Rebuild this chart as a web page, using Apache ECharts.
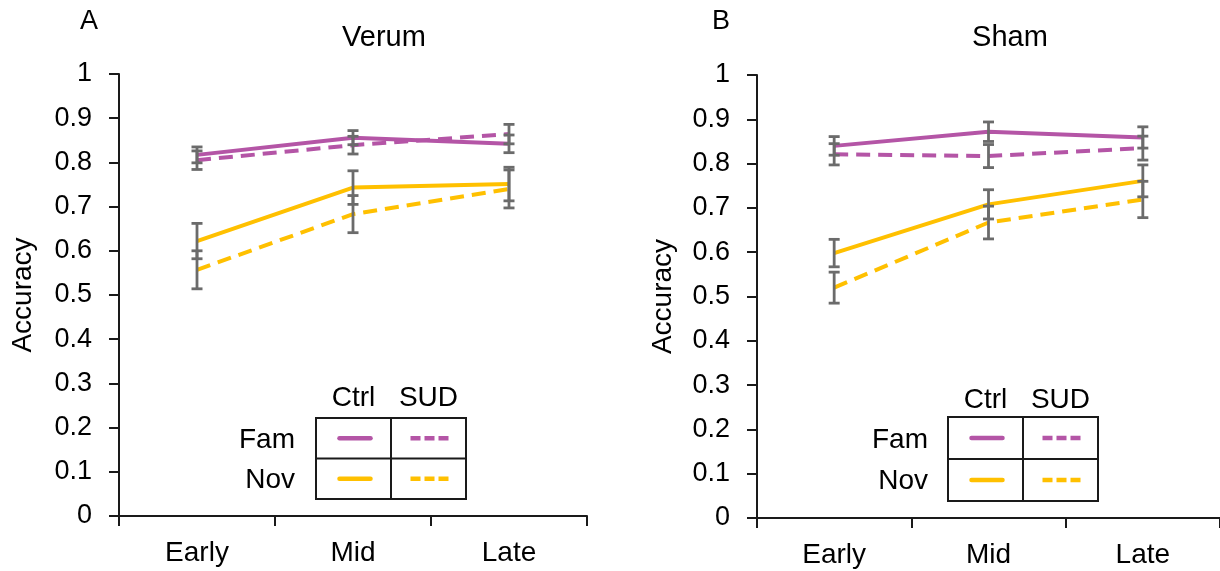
<!DOCTYPE html>
<html>
<head>
<meta charset="utf-8">
<script src="https://cdn.jsdelivr.net/npm/echarts@6/dist/echarts.min.js"></script>
<style>
html,body{margin:0;padding:0;background:#fff;}
#chart{width:1220px;height:571px;}
</style>
</head>
<body>
<div id="chart"></div>
<script>
// ---- data ----
const categories = ['Early', 'Mid', 'Late'];
const panelTitles = ['Verum', 'Sham'];
const panelLetters = ['A', 'B'];
const yAxisName = 'Accuracy';
const legendCols = ['Ctrl', 'SUD'];
const legendRows = ['Fam', 'Nov'];

// Panel A (Verum)
const famCtrlA = [0.817, 0.856, 0.842];
const famCtrlA_err = [0.018, 0.016, 0.020];
const famSudA = [0.805, 0.839, 0.864];
const famSudA_err = [0.021, 0.020, 0.022];
const novCtrlA = [0.622, 0.743, 0.751];
const novCtrlA_err = [0.040, 0.038, 0.038];
const novSudA = [0.557, 0.683, 0.740];
const novSudA_err = [0.043, 0.042, 0.043];

// Panel B (Sham)
const famCtrlB = [0.840, 0.872, 0.859];
const famCtrlB_err = [0.021, 0.022, 0.024];
const famSudB = [0.821, 0.817, 0.835];
const famSudB_err = [0.024, 0.026, 0.027];
const novCtrlB = [0.598, 0.708, 0.761];
const novCtrlB_err = [0.031, 0.033, 0.036];
const novSudB = [0.520, 0.667, 0.719];
const novSudB_err = [0.035, 0.037, 0.041];

// ---- styles ----
const PURPLE = '#B455A6';
const GOLD = '#FFC000';
const ERRC = '#6b6b6b';
const AXC = '#1a1a1a';
const FONT = "'Liberation Sans', Arial, sans-serif";

function errData(means, errs) {
  return means.map((m, i) => [i, m - errs[i], m + errs[i]]);
}
function errRender(params, api) {
  const x = api.value(0), lo = api.value(1), hi = api.value(2);
  const p1 = api.coord([x, hi]);
  const p2 = api.coord([x, lo]);
  const w = 5.5;
  const style = { stroke: ERRC, lineWidth: 2.8 };
  return {
    type: 'group',
    children: [
      { type: 'line', shape: { x1: p1[0], y1: p1[1], x2: p2[0], y2: p2[1] }, style },
      { type: 'line', shape: { x1: p1[0] - w, y1: p1[1], x2: p1[0] + w, y2: p1[1] }, style },
      { type: 'line', shape: { x1: p2[0] - w, y1: p2[1], x2: p2[0] + w, y2: p2[1] }, style }
    ]
  };
}

const panels = [
  { sets: [[famCtrlA, famCtrlA_err, PURPLE, 'solid'], [famSudA, famSudA_err, PURPLE, 'dashed'],
           [novCtrlA, novCtrlA_err, GOLD, 'solid'], [novSudA, novSudA_err, GOLD, 'dashed']] },
  { sets: [[famCtrlB, famCtrlB_err, PURPLE, 'solid'], [famSudB, famSudB_err, PURPLE, 'dashed'],
           [novCtrlB, novCtrlB_err, GOLD, 'solid'], [novSudB, novSudB_err, GOLD, 'dashed']] }
];

const grids = [
  { left: 119, top: 74, width: 468, height: 442 },
  { left: 757, top: 75, width: 471, height: 443 }
];

const xAxes = [], yAxes = [], series = [];
grids.forEach((g, gi) => {
  xAxes.push({
    type: 'category', gridIndex: gi, data: categories, boundaryGap: true,
    axisLine: { lineStyle: { color: AXC, width: 2 } },
    axisTick: { show: true, length: 10, lineStyle: { color: AXC, width: 2 } },
    axisLabel: { color: '#000', fontSize: 28, fontFamily: FONT, margin: 23 },
    splitLine: { show: false }
  });
  yAxes.push({
    type: 'value', gridIndex: gi, min: 0, max: 1, interval: 0.1,
    name: yAxisName, nameLocation: 'middle', nameGap: gi === 0 ? 82 : 80, nameRotate: 90,
    nameTextStyle: { color: '#000', fontSize: 28, fontFamily: FONT },
    axisLine: { show: true, lineStyle: { color: AXC, width: 2 } },
    axisTick: { show: true, length: 10, lineStyle: { color: AXC, width: 2 } },
    axisLabel: {
      color: '#000', fontSize: 27, fontFamily: FONT, margin: 27,
      formatter: v => (Math.round(v * 10) / 10).toString()
    },
    splitLine: { show: false }
  });
  panels[gi].sets.forEach(([means, errs, color, style]) => {
    series.push({
      type: 'line', xAxisIndex: gi, yAxisIndex: gi, data: means,
      symbol: 'none', z: 2,
      lineStyle: { color, width: 4, type: style === 'dashed' ? [14, 8] : 'solid' }
    });
  });
  panels[gi].sets.forEach(([means, errs]) => {
    series.push({
      type: 'custom', xAxisIndex: gi, yAxisIndex: gi, z: 3,
      data: errData(means, errs), encode: { x: 0, y: [1, 2] },
      renderItem: errRender
    });
  });
});

// Legend tables (graphic)
function legendTable(bx, by, bw, bh, labelRight, colY, rowYs) {
  const midX = bx + bw / 2, midY = by + bh / 2;
  const els = [];
  const ls = { stroke: '#1a1a1a', lineWidth: 2, fill: null };
  els.push({ type: 'rect', shape: { x: bx, y: by, width: bw, height: bh }, style: { stroke: '#1a1a1a', lineWidth: 2, fill: 'none' } });
  els.push({ type: 'line', shape: { x1: midX, y1: by, x2: midX, y2: by + bh }, style: ls });
  els.push({ type: 'line', shape: { x1: bx, y1: midY, x2: bx + bw, y2: midY }, style: ls });
  const tstyle = (t, x, y, align) => ({ type: 'text', x, y, style: { text: t, font: '28px ' + FONT, fill: '#000', textAlign: align, textVerticalAlign: 'middle' } });
  els.push(tstyle(legendCols[0], bx + bw / 4, colY, 'center'));
  els.push(tstyle(legendCols[1], bx + 3 * bw / 4, colY, 'center'));
  els.push(tstyle(legendRows[0], labelRight, rowYs[0], 'right'));
  els.push(tstyle(legendRows[1], labelRight, rowYs[1], 'right'));
  const cy = [by + bh / 4, by + 3 * bh / 4];
  const c1 = bx + bw / 4, c2 = bx + 3 * bw / 4;
  [PURPLE, GOLD].forEach((col, r) => {
    els.push({ type: 'line', shape: { x1: c1 - 14, y1: cy[r], x2: c1 + 17, y2: cy[r] }, style: { stroke: col, lineWidth: 4.5, lineCap: 'round' } });
    els.push({ type: 'line', shape: { x1: c2 - 18, y1: cy[r], x2: c2 + 20, y2: cy[r] }, style: { stroke: col, lineWidth: 4.5, lineCap: 'butt', lineDash: [10, 4] } });
  });
  return els;
}

const graphic = [
  { type: 'text', x: 89, y: 22, style: { text: panelLetters[0], font: '27px ' + FONT, fill: '#000', textAlign: 'center', textVerticalAlign: 'middle' } },
  { type: 'text', x: 721, y: 22, style: { text: panelLetters[1], font: '27px ' + FONT, fill: '#000', textAlign: 'center', textVerticalAlign: 'middle' } },
  { type: 'text', x: 384, y: 38, style: { text: panelTitles[0], font: '29px ' + FONT, fill: '#000', textAlign: 'center', textVerticalAlign: 'middle' } },
  { type: 'text', x: 1010, y: 38, style: { text: panelTitles[1], font: '29px ' + FONT, fill: '#000', textAlign: 'center', textVerticalAlign: 'middle' } },
  ...legendTable(316, 418, 150, 81, 295, 398, [440, 480]),
  ...legendTable(948, 417, 150, 84, 928, 400, [440, 481])
];

const chart = echarts.init(document.getElementById('chart'), null, { renderer: 'canvas' });
chart.setOption({
  animation: false,
  backgroundColor: '#fff',
  grid: grids,
  xAxis: xAxes,
  yAxis: yAxes,
  series,
  graphic
});
</script>
</body>
</html>
